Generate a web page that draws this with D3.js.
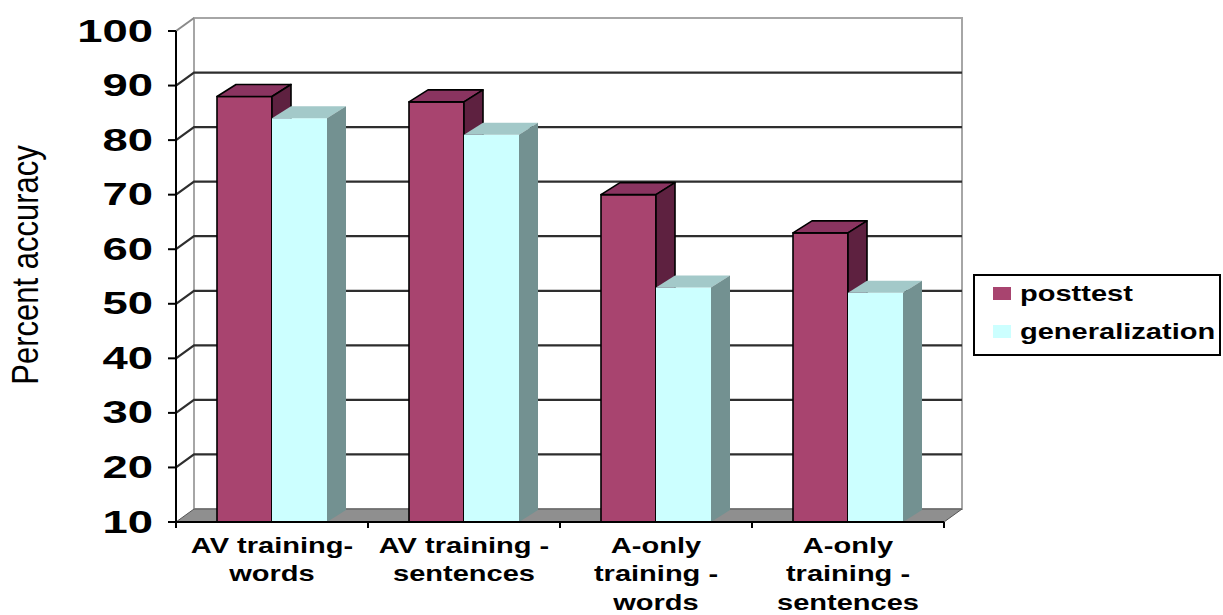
<!DOCTYPE html>
<html>
<head>
<meta charset="utf-8">
<script src="https://cdn.jsdelivr.net/npm/d3@7"></script>
<style>
  body { margin: 0; background: #fff; }
  svg { display: block; }
  text { font-family: "Liberation Sans", Arial, sans-serif; fill: #000; }
</style>
</head>
<body>
<svg id="chart" width="1223" height="615"></svg>
<script>
// ---- data ----
const categories = [
  "AV training-\nwords",
  "AV training -\nsentences",
  "A-only\ntraining -\nwords",
  "A-only\ntraining -\nsentences"
];
const seriesNames = ["posttest", "generalization"];
const posttest = [88, 87, 70, 63];
const generalization = [84, 81, 53, 52];
const yTicks = [10, 20, 30, 40, 50, 60, 70, 80, 90, 100];
const yTitle = "Percent accuracy";

// ---- look ----
const colors = {
  posttest:       { front: "#a8446f", top: "#8a3460", side: "#5e2140", stroke: "#000" },
  generalization: { front: "#ccffff", top: "#a3c9c9", side: "#739191", stroke: "none" }
};
const wallDX = 18, wallDY = -13;   // depth of the walls / floor
const barDX = 19, barDY = -12;     // depth of each column
const textSX = 1.32;               // horizontal widening of the labels

const svg = d3.select("#chart");

const x = d3.scaleBand().domain(categories).range([176, 944]);
const y = d3.scaleLinear().domain([10, 100]).range([522, 31]);
const inner = d3.scaleBand().domain(seriesNames).range([-55, 55]);

const x0 = x.range()[0], x1 = x.range()[1];
const yBase = y(10), yTop = y(100);

// back wall
svg.append("path")
  .attr("d", `M${x0 + wallDX},${yTop + wallDY}H${x1 + wallDX}V${yBase + wallDY}H${x0 + wallDX}Z`)
  .attr("fill", "#fff").attr("stroke", "#a6a6a6").attr("stroke-width", 2);
// left wall top edge
svg.append("path")
  .attr("d", `M${x0},${yTop}L${x0 + wallDX},${yTop + wallDY}`)
  .attr("fill", "none").attr("stroke", "#8a8a8a").attr("stroke-width", 2);

// gridlines across left and back walls
svg.append("g").selectAll("path")
  .data(yTicks.filter(v => v > 10 && v < 100))
  .join("path")
  .attr("d", v => `M${x0},${y(v)}L${x0 + wallDX},${y(v) + wallDY}H${x1 + wallDX}`)
  .attr("fill", "none").attr("stroke", "#2e2e2e").attr("stroke-width", 2.2);

// floor
svg.append("path")
  .attr("d", `M${x0},${yBase}L${x0 + wallDX},${yBase + wallDY}H${x1 + wallDX}L${x1},${yBase}Z`)
  .attr("fill", "#8f8f8f").attr("stroke", "#555").attr("stroke-width", 1);

// columns
const bars = [];
categories.forEach((c, i) => {
  const cx = x(c) + x.bandwidth() / 2;
  seriesNames.forEach((s, j) => {
    const v = (s === "posttest" ? posttest : generalization)[i];
    bars.push({ s, v, xl: cx + inner(s), w: inner.bandwidth() });
  });
});
const barG = svg.append("g");
bars.forEach(b => {
  const c = colors[b.s];
  const xl = b.xl, xr = b.xl + b.w, yt = y(b.v), yb = yBase;
  const g = barG.append("g")
    .attr("stroke", c.stroke).attr("stroke-width", 1.6).attr("stroke-linejoin", "round");
  g.append("path").attr("fill", c.front)
    .attr("d", `M${xl},${yb}V${yt}H${xr}V${yb}Z`);
  g.append("path").attr("fill", c.top)
    .attr("d", `M${xl},${yt}L${xl + barDX},${yt + barDY}H${xr + barDX}L${xr},${yt}Z`);
  g.append("path").attr("fill", c.side)
    .attr("d", `M${xr},${yt}L${xr + barDX},${yt + barDY}V${yb + barDY}L${xr},${yb}Z`);
});

// value axis
svg.append("path")
  .attr("d", `M${x0},${yTop}V${yBase + 5}`)
  .attr("stroke", "#000").attr("stroke-width", 2);
const yTickG = svg.append("g").selectAll("g")
  .data(yTicks).join("g")
  .attr("transform", v => `translate(${x0},${y(v)})`);
yTickG.append("path").attr("d", "M-8,0H0").attr("stroke", "#000").attr("stroke-width", 2);
yTickG.append("text")
  .attr("transform", "translate(-23,0) scale(1.42,1)")
  .attr("text-anchor", "end")
  .attr("dy", "0.33em")
  .attr("font-size", 32)
  .attr("font-weight", "bold")
  .text(d => d);

// category axis
svg.append("path")
  .attr("d", `M${x0 - 8},${yBase}H${x1}`)
  .attr("stroke", "#000").attr("stroke-width", 2);
svg.append("g").selectAll("path")
  .data(categories.map(c => x(c)).concat([x1]))
  .join("path")
  .attr("d", d => `M${d},${yBase}V${yBase + 6}`)
  .attr("stroke", "#000").attr("stroke-width", 2);
svg.append("g").selectAll("text")
  .data(categories).join("text")
  .attr("transform", c => `translate(${x(c) + x.bandwidth() / 2},553) scale(${textSX},1)`)
  .attr("text-anchor", "middle")
  .attr("font-size", 22)
  .attr("font-weight", "bold")
  .each(function (c) {
    d3.select(this).selectAll("tspan")
      .data(c.split("\n")).join("tspan")
      .attr("x", 0).attr("y", (d, k) => k * 28.5)
      .text(d => d);
  });

// axis title
svg.append("text")
  .attr("transform", "translate(38,265) scale(1.2,1) rotate(-90)")
  .attr("text-anchor", "middle")
  .attr("font-size", 31)
  .text(yTitle);

// legend
const lg = svg.append("g");
lg.append("rect")
  .attr("x", 974).attr("y", 275).attr("width", 246).attr("height", 80)
  .attr("fill", "#fff").attr("stroke", "#000").attr("stroke-width", 2);
const items = lg.selectAll("g.item").data(seriesNames).join("g")
  .attr("class", "item")
  .attr("transform", (d, i) => `translate(993,${301 + i * 38})`);
items.append("rect")
  .attr("x", 0).attr("y", -14).attr("width", 18).attr("height", 13)
  .attr("fill", d => colors[d].front);
items.append("text")
  .attr("transform", `translate(27,0) scale(${textSX},1)`)
  .attr("font-size", 22)
  .attr("font-weight", "bold")
  .text(d => d);
</script>
</body>
</html>
